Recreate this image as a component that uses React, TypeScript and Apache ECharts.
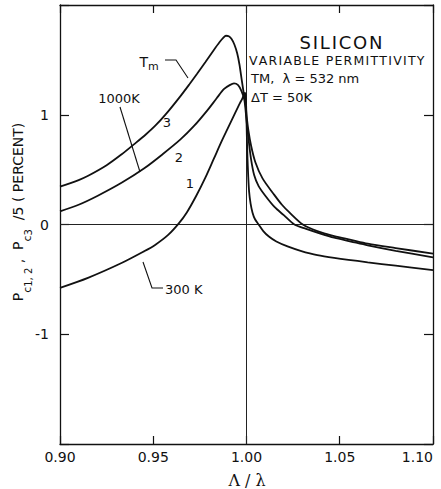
import React, { useEffect, useRef } from 'react';
import * as echarts from 'echarts';

// Tick labels
const xTickLabels = ['0.90', '0.95', '1.00', '1.05', '1.10'];
const yTickLabels = ['-1', '0', '1'];

// Curve 1 : 300 K
const curve1X = [0.900, 0.915, 0.933, 0.945, 0.951, 0.958, 0.9637, 0.968, 0.973, 0.9780, 0.9825, 0.987, 0.9915, 0.9960, 0.9978, 0.9991, 0.9996, 1.0000, 1.0002, 1.0005, 1.0009, 1.0014, 1.0022, 1.0032, 1.0045, 1.0065, 1.009, 1.012, 1.016, 1.022, 1.029, 1.038, 1.047, 1.065, 1.080, 1.100];
const curve1Y = [-0.577, -0.486, -0.351, -0.245, -0.186, -0.095, 0.01, 0.11, 0.26, 0.43, 0.60, 0.77, 0.93, 1.09, 1.15, 1.20, 1.17, 0.95, 0.80, 0.62, 0.45, 0.30, 0.19, 0.11, 0.05, 0.0, -0.06, -0.11, -0.155, -0.20, -0.24, -0.28, -0.305, -0.345, -0.375, -0.415];

// Curve 2 : 1000 K
const curve2X = [0.900, 0.910, 0.920, 0.933, 0.945, 0.955, 0.9646, 0.972, 0.979, 0.984, 0.988, 0.991, 0.9933, 0.9955, 0.9972, 0.9988, 1.0000, 1.0010, 1.0024, 1.0041, 1.0065, 1.0104, 1.0150, 1.0200, 1.0257, 1.032, 1.040, 1.047, 1.056, 1.065, 1.080, 1.100];
const curve2Y = [0.12, 0.18, 0.26, 0.38, 0.51, 0.64, 0.775, 0.90, 1.04, 1.15, 1.235, 1.27, 1.285, 1.27, 1.22, 1.14, 0.95, 0.79, 0.60, 0.45, 0.35, 0.255, 0.16, 0.085, 0.0, -0.04, -0.085, -0.12, -0.155, -0.19, -0.24, -0.30];

// Curve 3 : Tm
const curve3X = [0.900, 0.910, 0.9151, 0.925, 0.9331, 0.940, 0.946, 0.9511, 0.957, 0.9646, 0.9695, 0.9736, 0.978, 0.9825, 0.9855, 0.9875, 0.989, 0.9905, 0.992, 0.9935, 0.9950, 0.9962, 0.9975, 0.9988, 0.9995, 1.0000, 1.0010, 1.0025, 1.0047, 1.0086, 1.0149, 1.0190, 1.0230, 1.0302, 1.038, 1.047, 1.056, 1.065, 1.080, 1.100];
const curve3Y = [0.345, 0.405, 0.444, 0.54, 0.64, 0.735, 0.82, 0.90, 1.01, 1.17, 1.28, 1.375, 1.48, 1.59, 1.66, 1.70, 1.72, 1.715, 1.69, 1.64, 1.56, 1.46, 1.31, 1.165, 1.10, 1.0, 0.86, 0.715, 0.57, 0.42, 0.27, 0.18, 0.11, 0.0, -0.06, -0.105, -0.14, -0.175, -0.215, -0.265];

const zip = (xs: number[], ys: number[]) => xs.map((x, i) => [x, ys[i]]);

const FONT = 'DejaVu Sans';
const HS = '\u200a';
const spaced = (s: string) => s.split('').join(HS);

export default function App() {
  const ref = useRef<HTMLDivElement>(null);
  useEffect(() => {
    if (!ref.current) return;
    const chart = echarts.init(ref.current, undefined, { renderer: 'svg' });
    const lineSeries = (name: string, xs: number[], ys: number[], extra: any = {}) => ({
      type: 'line',
      name,
      data: zip(xs, ys),
      showSymbol: false,
      symbol: 'none',
      smooth: 0.3,
      lineStyle: { color: '#111', width: 1.8 },
      xAxisIndex: 0,
      yAxisIndex: 0,
      z: 3,
      ...extra,
    });
    const axisCommon = {
      type: 'value',
      axisLine: { show: true, onZero: false, lineStyle: { color: '#111', width: 1.3 } },
      splitLine: { show: false },
    };
    chart.setOption({
      animation: false,
      backgroundColor: '#fff',
      grid: { left: 60, right: 8, top: 5, bottom: 45, containLabel: false, outerBoundsMode: 'none' },
      xAxis: [
        {
          ...axisCommon,
          position: 'bottom',
          min: 0.9,
          max: 1.1,
          interval: 0.05,
          axisTick: { show: true, inside: true, length: 8, lineStyle: { color: '#111', width: 1.2 } },
          axisLabel: {
            show: true,
            margin: 6,
            fontSize: 14,
            fontFamily: FONT,
            color: '#111',
            alignMaxLabel: 'right',
            formatter: (v: number) => {
              const i = Math.round((v - 0.9) / 0.05);
              return xTickLabels[i] ?? '';
            },
          },
        },
        {
          ...axisCommon,
          position: 'top',
          min: 0.9,
          max: 1.1,
          interval: 0.05,
          axisTick: { show: true, inside: true, length: 8, lineStyle: { color: '#111', width: 1.2 } },
          axisLabel: { show: false },
        },
      ],
      yAxis: [
        {
          ...axisCommon,
          position: 'left',
          min: -2,
          max: 2,
          interval: 1,
          axisTick: { show: true, inside: true, length: 9, lineStyle: { color: '#111', width: 1.2 } },
          axisLabel: {
            show: true,
            margin: 11,
            fontSize: 14,
            fontFamily: FONT,
            color: '#111',
            formatter: (v: number) => {
              const i = Math.round(v) + 1;
              return Math.abs(v) < 1.5 ? yTickLabels[i] : '';
            },
          },
        },
        {
          ...axisCommon,
          position: 'right',
          min: -2,
          max: 2,
          interval: 1,
          axisTick: { show: true, inside: true, length: 9, lineStyle: { color: '#111', width: 1.2 } },
          axisLabel: { show: false },
        },
      ],
      series: [
        lineSeries('300 K', curve1X, curve1Y, {
          markLine: {
            silent: true,
            symbol: ['none', 'none'],
            label: { show: false },
            lineStyle: { color: '#222', width: 1, type: 'solid' },
            data: [{ xAxis: 1.0 }, { yAxis: 0 }],
            z: 1,
          },
        }),
        lineSeries('1000 K', curve2X, curve2Y),
        lineSeries('Tm', curve3X, curve3Y),
      ],
      graphic: [
        { type: 'text', x: 341, y: 42, style: { text: spaced('SILICON'), font: `18px "${FONT}"`, fill: '#111', align: 'center', verticalAlign: 'middle' } },
        { type: 'text', x: 249, y: 60, style: { text: spaced('VARIABLE PERMITTIVITY'), font: `12.5px "${FONT}"`, fill: '#111', align: 'left', verticalAlign: 'middle' } },
        { type: 'text', x: 251, y: 78, style: { text: 'TM,  λ = 532 nm', font: `13px "${FONT}"`, fill: '#111', align: 'left', verticalAlign: 'middle' } },
        { type: 'text', x: 251, y: 97, style: { text: 'ΔT = 50K', font: `13px "${FONT}"`, fill: '#111', align: 'left', verticalAlign: 'middle' } },
        { type: 'text', x: 149, y: 62, style: { text: '{a|T}{b|m}', rich: { a: { fontSize: 14, fontFamily: FONT, lineHeight: 20, verticalAlign: 'middle' }, b: { fontSize: 11, fontFamily: FONT, lineHeight: 12, verticalAlign: 'bottom' } }, fill: '#111', align: 'center', verticalAlign: 'middle' } },
        { type: 'polyline', shape: { points: [[165, 60], [176, 60], [188, 78]] }, style: { stroke: '#111', lineWidth: 1.1, fill: 'none' } },
        { type: 'text', x: 119, y: 98, style: { text: '1000K', font: `13px "${FONT}"`, fill: '#111', align: 'center', verticalAlign: 'middle' } },
        { type: 'line', shape: { x1: 120, y1: 107, x2: 140, y2: 172 }, style: { stroke: '#111', lineWidth: 1.1 } },
        { type: 'text', x: 167, y: 122, style: { text: '3', font: `13px "${FONT}"`, fill: '#111', align: 'center', verticalAlign: 'middle' } },
        { type: 'text', x: 179, y: 157, style: { text: '2', font: `13px "${FONT}"`, fill: '#111', align: 'center', verticalAlign: 'middle' } },
        { type: 'text', x: 190, y: 183, style: { text: '1', font: `13px "${FONT}"`, fill: '#111', align: 'center', verticalAlign: 'middle' } },
        { type: 'polyline', shape: { points: [[143, 262], [152, 288], [163, 288]] }, style: { stroke: '#111', lineWidth: 1.1, fill: 'none' } },
        { type: 'text', x: 165, y: 289, style: { text: '300 K', font: `13px "${FONT}"`, fill: '#111', align: 'left', verticalAlign: 'middle' } },
        { type: 'text', x: 247, y: 480, style: { text: 'Λ / λ', font: `16px "DejaVu Serif"`, fill: '#111', align: 'center', verticalAlign: 'middle' } },
        {
          type: 'text',
          x: 18,
          y: 212,
          rotation: Math.PI / 2,
          style: {
            text: '{p|P}{s|c}{ss|1, 2}{p| ,  P}{s|c}{ss|3}{p|  /5 ( PERCENT)}',
            rich: {
              p: { fontSize: 14, fontFamily: FONT, lineHeight: 30, verticalAlign: 'middle', fill: '#111' },
              s: { fontSize: 11, fontFamily: FONT, lineHeight: 17, verticalAlign: 'bottom', fill: '#111' },
              ss: { fontSize: 10, fontFamily: FONT, lineHeight: 10, verticalAlign: 'bottom', fill: '#111' },
            },
            fill: '#111',
            align: 'center',
            verticalAlign: 'middle',
          },
        },
      ],
    });
    return () => chart.dispose();
  }, []);
  return <div ref={ref} style={{ position: 'fixed', left: 0, top: 0, width: 441, height: 489 }} />;
}
